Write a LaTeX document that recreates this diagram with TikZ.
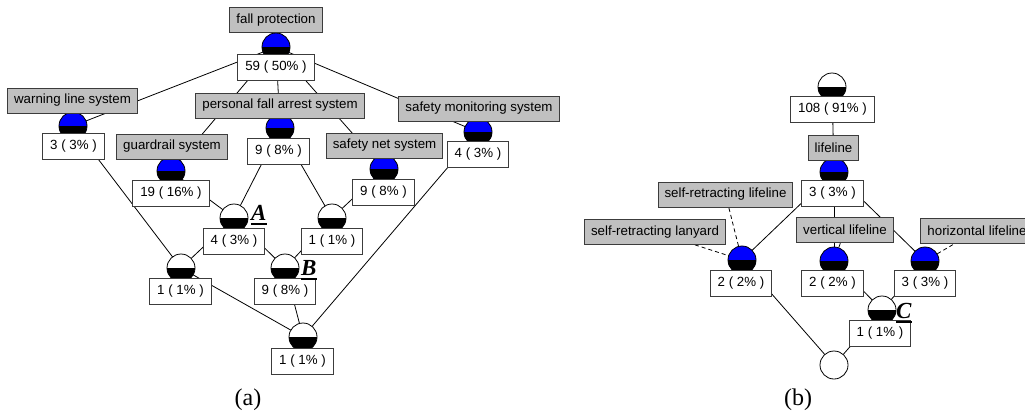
\documentclass[tikz,border=0pt]{standalone}
\usepackage{fontspec}
\setmainfont{Liberation Sans}
\newfontfamily\seriffont{Liberation Serif}
\pgfdeclarelayer{bg}
\pgfdeclarelayer{edges}
\pgfsetlayers{bg,edges,main}
\definecolor{lblgray}{RGB}{192,192,192}
\definecolor{bordergray}{RGB}{60,60,60}
\newcommand\myul[1]{\setbox0\hbox{#1}\rlap{\rule[-5pt]{\wd0}{1.8pt}}\box0}
\tikzset{
  x=1pt, y=-1pt,
  every node/.style={font=\fontsize{13.3}{15}\selectfont},
  lbl/.style={draw=bordergray, fill=lblgray, line width=1pt, inner xsep=6.5pt, inner ysep=0pt, minimum height=25pt},
  cnt/.style={draw=bordergray, fill=white, line width=1pt, inner xsep=7.5pt, inner ysep=0pt, minimum height=25.5pt, anchor=north},
  half/.style={circle, draw=black, line width=0.8pt, minimum size=28pt, inner sep=0pt, fill=#1,
    path picture={\fill[black] (path picture bounding box.west) rectangle (path picture bounding box.south east);}},
  half/.default=blue,
  emptyc/.style={circle, draw=black, line width=0.8pt, minimum size=28pt, inner sep=0pt, fill=white},
  edgeline/.style={line width=0.8pt, black},
  dashedge/.style={line width=0.8pt, black, dashed, dash pattern=on 4pt off 3pt},
  tag/.style={font=\seriffont\bfseries\itshape\fontsize{23}{25}\selectfont, inner sep=0pt, anchor=base west},
  panel/.style={font=\seriffont\fontsize{24}{26}\selectfont, inner sep=0pt}
}
\begin{document}
\begin{tikzpicture}
\begin{pgfonlayer}{bg}
\fill[white] (0,0) rectangle (1025,416);
\end{pgfonlayer}
\useasboundingbox (0,0) rectangle (1025,416);

% ---------- panel (a) ----------
\node[half] (top) at (276,47) {};
\node[cnt] (topc) at (276,54) {59 ( 50\% )};
\node[lbl] (topl) at (276,20) {fall protection};

\node[half] (warn) at (73,126) {};
\node[cnt] (warnc) at (73.5,133) {3 ( 3\% )};
\node[lbl] (warnl) at (72.5,100.5) {warning line system};

\node[half] (guard) at (171,171) {};
\node[cnt] (guardc) at (171,180) {19 ( 16\% )};
\node[lbl] (guardl) at (172,146.5) {guardrail system};

\node[half] (pfa) at (280,128) {};
\node[cnt] (pfac) at (278.5,138) {9 ( 8\% )};
\node[lbl] (pfal) at (280,105.5) {personal fall arrest system};

\node[half] (net) at (384,169) {};
\node[cnt] (netc) at (383.5,179) {9 ( 8\% )};
\node[lbl] (netl) at (384.5,145.5) {safety net system};

\node[half] (sm) at (478,132) {};
\node[cnt] (smc) at (478,141) {4 ( 3\% )};
\node[lbl] (sml) at (479,108.5) {safety monitoring system};

\node[half=white] (na) at (234,218) {};
\node[cnt] (nac) at (234,228) {4 ( 3\% )};
\node[tag] (taga) at (251,220) {\myul{A}};

\node[half=white] (nr) at (332,218) {};
\node[cnt] (nrc) at (332,228) {1 ( 1\% )};

\node[half=white] (nl) at (181,268) {};
\node[cnt] (nlc) at (180.5,278) {1 ( 1\% )};

\node[half=white] (nb) at (285,268) {};
\node[cnt] (nbc) at (285,278) {9 ( 8\% )};
\node[tag] (tagb) at (301,275) {\myul{B}};

\node[half=white] (nbot) at (303,337) {};
\node[cnt] (nbotc) at (302.5,348) {1 ( 1\% )};

\node[panel] (pa) at (248,400) {(a)};

\begin{pgfonlayer}{edges}
\draw[edgeline] (top.center) -- (warn.center);
\draw[edgeline] (top.center) -- (guard.center);
\draw[edgeline] (top.center) -- (pfa.center);
\draw[edgeline] (top.center) -- (net.center);
\draw[edgeline] (top.center) -- (sm.center);
\draw[edgeline] (warn.center) -- (nl.center);
\draw[edgeline] (guard.center) -- (na.center);
\draw[edgeline] (pfa.center) -- (na.center);
\draw[edgeline] (pfa.center) -- (nr.center);
\draw[edgeline] (net.center) -- (nr.center);
\draw[edgeline] (na.center) -- (nl.center);
\draw[edgeline] (na.center) -- (nb.center);
\draw[edgeline] (nr.center) -- (nb.center);
\draw[edgeline] (nl.center) -- (nbot.center);
\draw[edgeline] (nb.center) -- (nbot.center);
\draw[edgeline] (sm.center) -- (nbot.center);
\end{pgfonlayer}

% ---------- panel (b) ----------
\node[half=white] (btop) at (832,87) {};
\node[cnt] (btopc) at (832.5,96) {108 ( 91\% )};

\node[half] (life) at (834,172) {};
\node[cnt] (lifec) at (832.5,180) {3 ( 3\% )};
\node[lbl] (lifel) at (833.5,148) {lifeline};

\node[half] (srl) at (742,260) {};
\node[cnt] (srlc) at (741,270) {2 ( 2\% )};
\node[lbl] (srll) at (725.5,194.5) {self-retracting lifeline};
\node[lbl] (lanl) at (655,232) {self-retracting lanyard};

\node[half] (vert) at (834,261) {};
\node[cnt] (vertc) at (832.5,270) {2 ( 2\% )};
\node[lbl] (vertl) at (845,230) {vertical lifeline};

\node[half] (hor) at (925,261) {};
\node[cnt] (horc) at (925,270) {3 ( 3\% )};
\node[lbl] (horl) at (977,230.5) {horizontal lifeline};

\node[half=white] (nc) at (882,310) {};
\node[cnt] (ncc) at (880,320) {1 ( 1\% )};
\node[tag] (tagc) at (896,318) {\myul{C}};

\node[emptyc] (bbot) at (834,365) {};

\node[panel] (pb) at (798,400) {(b)};

\begin{pgfonlayer}{edges}
\draw[edgeline] (btop.center) -- (life.center);
\draw[edgeline] (life.center) -- (srl.center);
\draw[edgeline] (life.center) -- (vert.center);
\draw[edgeline] (life.center) -- (hor.center);
\draw[edgeline] (srl.center) -- (bbot.center);
\draw[edgeline] (vert.center) -- (nc.center);
\draw[edgeline] (hor.center) -- (nc.center);
\draw[edgeline] (nc.center) -- (bbot.center);
\draw[dashedge] (srll.center) -- (srl.center);
\draw[dashedge] (lanl.center) -- (srl.center);
\draw[dashedge] (vertl.center) -- (vert.center);
\draw[dashedge] (horl.center) -- (hor.center);
\end{pgfonlayer}
\end{tikzpicture}
\end{document}
